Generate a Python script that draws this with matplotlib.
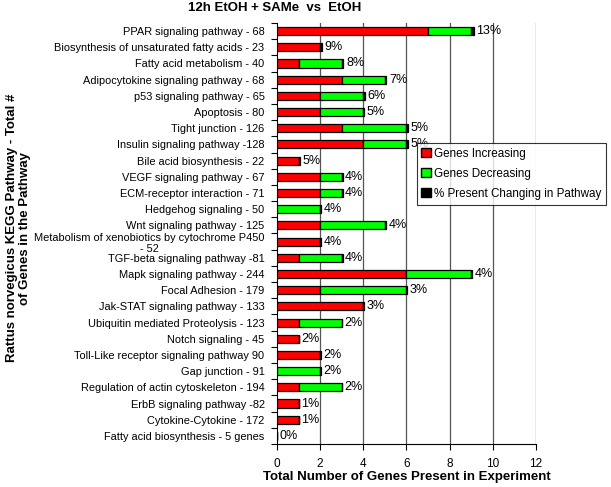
import matplotlib
matplotlib.use("Agg")
import matplotlib.pyplot as plt
from matplotlib.patches import Patch
from matplotlib.ticker import FixedLocator

plt.rcParams["font.family"] = ["Liberation Sans", "DejaVu Sans"]

pathways = [
    "PPAR signaling pathway - 68",
    "Biosynthesis of unsaturated fatty acids - 23",
    "Fatty acid metabolism - 40",
    "Adipocytokine signaling pathway - 68",
    "p53 signaling pathway - 65",
    "Apoptosis - 80",
    "Tight junction - 126",
    "Insulin signaling pathway -128",
    "Bile acid biosynthesis - 22",
    "VEGF signaling pathway - 67",
    "ECM-receptor interaction - 71",
    "Hedgehog signaling - 50",
    "Wnt signaling pathway - 125",
    "Metabolism of xenobiotics by cytochrome P450\n- 52",
    "TGF-beta signaling pathway -81",
    "Mapk signaling pathway - 244",
    "Focal Adhesion - 179",
    "Jak-STAT signaling pathway - 133",
    "Ubiquitin mediated Proteolysis - 123",
    "Notch signaling - 45",
    "Toll-Like receptor signaling pathway 90",
    "Gap junction - 91",
    "Regulation of actin cytoskeleton - 194",
    "ErbB signaling pathway -82",
    "Cytokine-Cytokine - 172",
    "Fatty acid biosynthesis - 5 genes",
]
genes_up = [7, 2, 1, 3, 2, 2, 3, 4, 1, 2, 2, 0, 2, 2, 1, 6, 2, 4, 1, 1, 2, 0, 1, 1, 1, 0]
genes_down = [2, 0, 2, 2, 2, 2, 3, 2, 0, 1, 1, 2, 3, 0, 2, 3, 4, 0, 2, 0, 0, 2, 2, 0, 0, 0]
pct_changing = [13, 9, 8, 7, 6, 5, 5, 5, 5, 4, 4, 4, 4, 4, 4, 4, 3, 3, 2, 2, 2, 2, 2, 1, 1, 0]

fig = plt.figure(figsize=(6.11, 4.87), dpi=100)
ax = fig.add_axes([0.4534, 0.0883, 0.4236, 0.8645])

y = list(range(len(pathways)))
totals = [u + d for u, d in zip(genes_up, genes_down)]
black_w = [p / 100 for p in pct_changing]

kw = dict(height=0.5, edgecolor="black", linewidth=0.9, zorder=3)
ax.barh(y, genes_up, color="#ff0000", **kw)
ax.barh(y, genes_down, left=genes_up, color="#00ff00", **kw)
ax.barh(y, black_w, left=totals, color="black", **kw)

for yi, t, b, p in zip(y, totals, black_w, pct_changing):
    ax.text(t + b + 0.12, yi, f"{p}%", va="center", ha="left", fontsize=9, zorder=4)

ax.set_xlim(0, 12)
ax.set_ylim(len(pathways) - 0.5, -0.5)
ax.set_xticks(range(0, 13, 2))
ax.set_yticks(y)
ax.set_yticklabels(pathways, fontsize=7.9, multialignment="center")
ax.yaxis.set_minor_locator(FixedLocator([i - 0.5 for i in range(len(pathways) + 1)]))
ax.tick_params(axis="y", which="major", length=0, pad=9)
ax.tick_params(axis="y", which="minor", length=4, direction="out", width=0.8)
ax.tick_params(axis="x", length=4, direction="out", width=0.8, labelsize=8.5, pad=6)

for s in ["top", "right"]:
    ax.spines[s].set_visible(False)
for x in range(2, 13, 2):
    ax.axvline(x, color="#555555", linewidth=0.9, zorder=1)

ax.set_xlabel("Total Number of Genes Present in Experiment", fontsize=9.5,
              fontweight="bold", labelpad=1)
ax.set_ylabel("Rattus norvegicus KEGG Pathway - Total #\nof Genes in the Pathway",
              fontsize=9.5, fontweight="bold", linespacing=1.1)
ax.yaxis.set_label_coords(-0.95, 0.513)
fig.text(275 / 611, 1 - 8 / 487, "12h EtOH + SAMe  vs  EtOH", fontsize=9.5,
         fontweight="bold", ha="center", va="center")

handles = [
    Patch(facecolor="#ff0000", edgecolor="black", label="Genes Increasing"),
    Patch(facecolor="#00ff00", edgecolor="black", label="Genes Decreasing"),
    Patch(facecolor="black", edgecolor="black", label="% Present Changing in Pathway"),
]
leg = ax.legend(handles=handles, loc="upper left", bbox_to_anchor=(0.54, 0.715),
                fontsize=8.4, frameon=True, fancybox=False, edgecolor="black",
                handlelength=0.8, handleheight=0.8, handletextpad=0.3,
                borderaxespad=0, labelspacing=0.7)
leg.get_frame().set_linewidth(0.8)
leg.set_zorder(5)

fig.savefig("out.png", dpi=100)
